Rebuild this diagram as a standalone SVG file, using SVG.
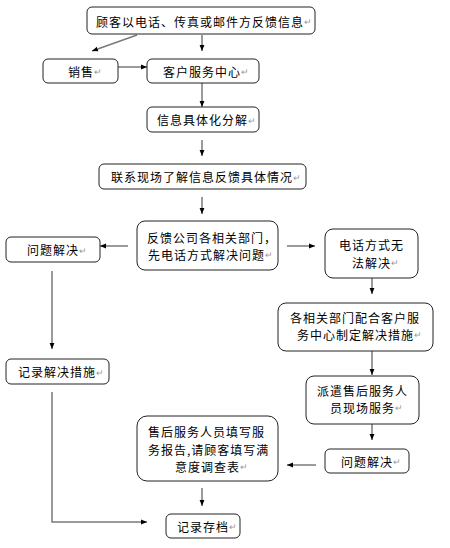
<svg xmlns="http://www.w3.org/2000/svg" width="450" height="548" viewBox="0 0 450 548">
<style>
.b{fill:#fff;stroke:#222;stroke-width:1}
.t{font-family:"Noto Sans CJK SC","Liberation Sans",sans-serif;font-size:12px;letter-spacing:1px;fill:#000;dominant-baseline:central}
.r{fill:#999;font-size:9px;letter-spacing:0}
.c{fill:none;stroke:#7a7a7a;stroke-width:1.5}
</style>
<defs>
<marker id="a" viewBox="0 0 10 10" refX="10" refY="5" markerWidth="6" markerHeight="6" markerUnits="userSpaceOnUse" orient="auto">
<path d="M0,1 L10,5 L0,9 z" fill="#000"/>
</marker>
</defs>
<rect width="450" height="548" fill="#fff"/>
<g id="connectors">
<line class="c" x1="137" y1="35" x2="92" y2="51" marker-end="url(#a)"/>
<line class="c" x1="202" y1="35" x2="202" y2="51" marker-end="url(#a)"/>
<line class="c" x1="118" y1="67" x2="147" y2="67" marker-end="url(#a)"/>
<line class="c" x1="202" y1="83" x2="202" y2="107" marker-end="url(#a)"/>
<line class="c" x1="202" y1="140" x2="202" y2="156" marker-end="url(#a)"/>
<line class="c" x1="202" y1="197" x2="202" y2="214" marker-end="url(#a)"/>
<line class="c" x1="128" y1="246" x2="100" y2="246" marker-end="url(#a)"/>
<line class="c" x1="287" y1="246" x2="315" y2="246" marker-end="url(#a)"/>
<line class="c" x1="52" y1="271" x2="52" y2="349" marker-end="url(#a)"/>
<line class="c" x1="372" y1="278" x2="372" y2="294" marker-end="url(#a)"/>
<line class="c" x1="372" y1="351" x2="372" y2="375" marker-end="url(#a)"/>
<line class="c" x1="372" y1="424" x2="372" y2="440" marker-end="url(#a)"/>
<line class="c" x1="316" y1="465" x2="287" y2="465" marker-end="url(#a)"/>
<line class="c" x1="202" y1="488" x2="202" y2="506" marker-end="url(#a)"/>
<polyline class="c" points="52,392 52,522 147,522" marker-end="url(#a)"/>
</g>
<g id="n1"><rect class="b" x="87" y="7" width="228" height="27" rx="5"/><text class="t" x="96" y="21">顾客以电话、传真或邮件方反馈信息<tspan class="r">↵</tspan></text></g>
<g id="n2"><rect class="b" x="43" y="59" width="75" height="24" rx="5"/><text class="t" x="68" y="71">销售<tspan class="r">↵</tspan></text></g>
<g id="n3"><rect class="b" x="147" y="59" width="112" height="24" rx="5"/><text class="t" x="163" y="71">客户服务中心<tspan class="r">↵</tspan></text></g>
<g id="n4"><rect class="b" x="147" y="107" width="112" height="25" rx="5"/><text class="t" x="157" y="119.5">信息具体化分解<tspan class="r">↵</tspan></text></g>
<g id="n5"><rect class="b" x="99" y="164" width="207" height="25" rx="5"/><text class="t" x="111" y="176.5">联系现场了解信息反馈具体情况<tspan class="r">↵</tspan></text></g>
<g id="n6"><rect class="b" x="137" y="221" width="141" height="49" rx="8"/><text class="t"><tspan x="147" y="236.5">反馈公司各相关部门，</tspan><tspan x="148" y="254">先电话方式解决问题</tspan><tspan class="r">↵</tspan></text></g>
<g id="n7"><rect class="b" x="6" y="237" width="94" height="25" rx="5"/><text class="t" x="27" y="249.5">问题解决<tspan class="r">↵</tspan></text></g>
<g id="n8"><rect class="b" x="325" y="229" width="93" height="49" rx="8"/><text class="t"><tspan x="339" y="244">电话方式无</tspan><tspan x="352" y="261.5">法解决</tspan><tspan class="r">↵</tspan></text></g>
<g id="n9"><rect class="b" x="278" y="303" width="155" height="48" rx="8"/><text class="t"><tspan x="290" y="316.5">各相关部门配合客户服</tspan><tspan x="297" y="334">务中心制定解决措施</tspan><tspan class="r">↵</tspan></text></g>
<g id="n10"><rect class="b" x="6" y="359" width="103" height="25" rx="5"/><text class="t" x="18" y="371.5">记录解决措施<tspan class="r">↵</tspan></text></g>
<g id="n11"><rect class="b" x="306" y="376" width="113" height="48" rx="8"/><text class="t"><tspan x="317" y="389.5">派遣售后服务人</tspan><tspan x="330" y="407">员现场服务</tspan><tspan class="r">↵</tspan></text></g>
<g id="n12"><rect class="b" x="137" y="416" width="141" height="65" rx="10"/><text class="t"><tspan x="148" y="431">售后服务人员填写服</tspan><tspan x="148" y="448.5">务报告,请顾客填写满</tspan><tspan x="175" y="466">意度调查表</tspan><tspan class="r">↵</tspan></text></g>
<g id="n13"><rect class="b" x="325" y="449" width="84" height="24" rx="5"/><text class="t" x="341" y="461">问题解决<tspan class="r">↵</tspan></text></g>
<g id="n14"><rect class="b" x="166" y="514" width="74" height="24" rx="5"/><text class="t" x="177" y="526">记录存档<tspan class="r">↵</tspan></text></g>
</svg>
